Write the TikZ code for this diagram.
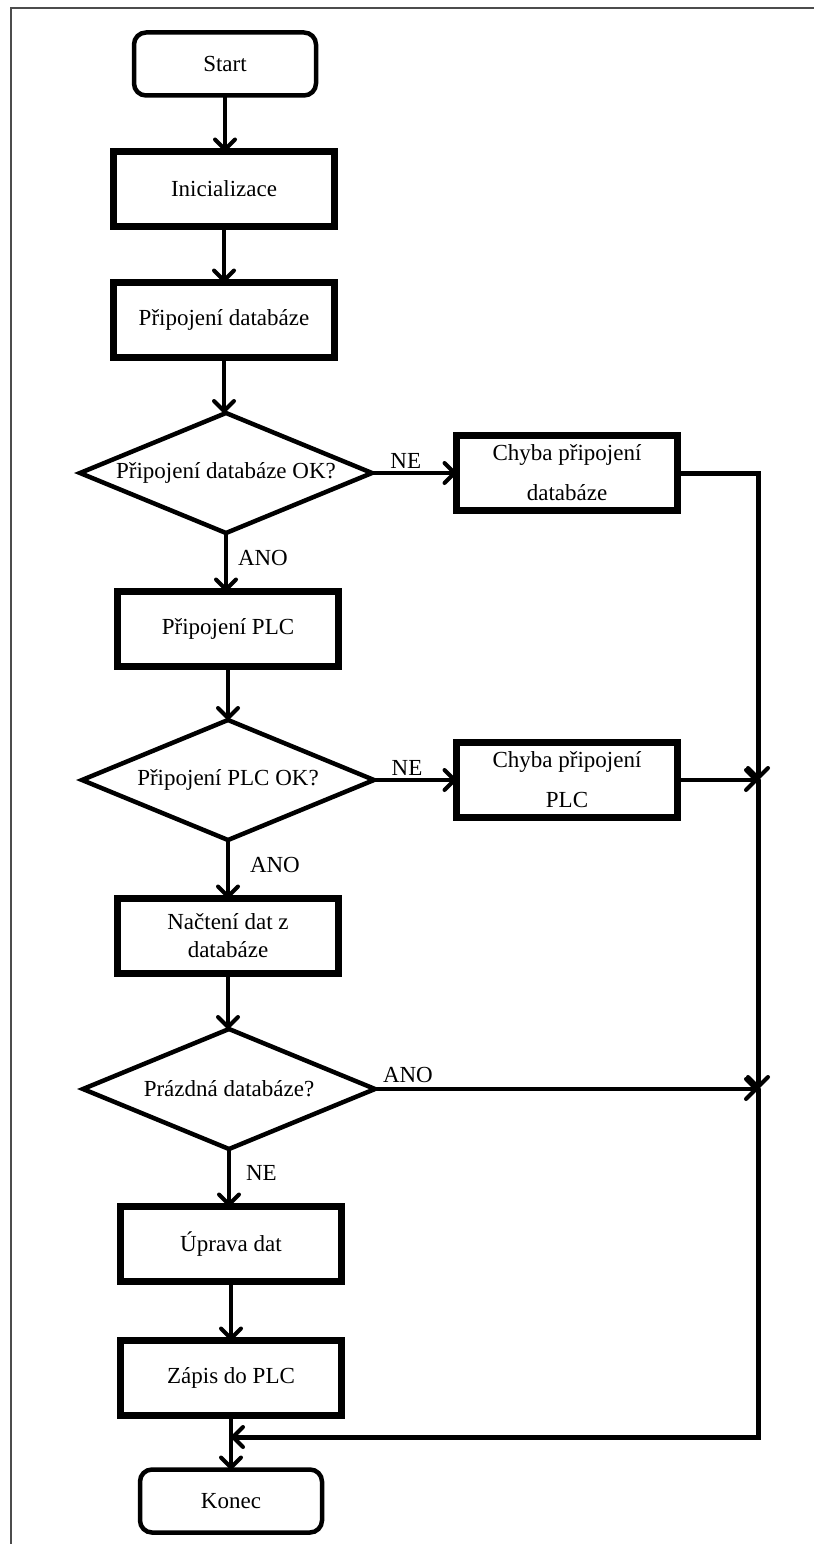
\documentclass[tikz,border=0pt]{standalone}
\usepackage{fontspec}
\setmainfont{Liberation Serif}
\usetikzlibrary{shapes.geometric,arrows.meta}

\begin{document}
\begin{tikzpicture}[x=1pt,y=-1pt,
  every node/.style={font=\fontsize{23}{28}\selectfont, inner sep=0pt, outer sep=0pt},
  term/.style={draw, line width=4.5pt, rounded corners=12pt,
    minimum width=182pt, minimum height=63pt},
  proc/.style={draw, line width=7pt, minimum width=221pt, minimum height=75pt, align=center},
  proc2/.style={proc, font=\fontsize{23}{40}\selectfont},
  dec/.style={draw, diamond, aspect=2.4, line width=4.5pt,
    minimum width=292pt, minimum height=120pt},
  arr/.style={line width=4pt, line cap=round,
    -{Straight Barb[length=10pt,width=20pt,line width=4pt,round]}},
  bus/.style={arr, line width=5pt},
  lbl/.style={font=\fontsize{23}{28}\selectfont}
]
\useasboundingbox (0,0) rectangle (814,1544);

% page frame
\draw[black!70, line width=2pt] (11,1544) -- (11,8) -- (814,8);

% main column
\node[term] (start) at (225,64) {Start};
\node[proc] (init)  at (224,189) {Inicializace};
\node[proc] (pdb)   at (224,320) {Připojení databáze};
\node[dec]  (d1)    at (226,473) {Připojení databáze OK?};
\node[proc] (pplc)  at (228,629) {Připojení PLC};
\node[dec]  (d2)    at (228,780) {Připojení PLC OK?};
\node[proc] (load)  at (228,936) {Načtení dat z\\databáze};
\node[dec]  (d3)    at (229,1089) {Prázdná databáze?};
\node[proc] (edit)  at (231,1244) {Úprava dat};
\node[proc] (write) at (231,1378) {Zápis do PLC};
\node[term] (konec) at (231,1501) {Konec};

% error boxes
\node[proc2] (e1) at (567,473) {Chyba připojení\\databáze};
\node[proc2] (e2) at (567,780) {Chyba připojení\\PLC};

% junctions on the collecting line
\coordinate (j1) at (758,780);
\coordinate (j2) at (758,1089);
\coordinate (j3) at (231,1437);

% main flow
\draw[arr] (start.south) -- (start.south |- init.north);
\draw[arr] (init.south) -- (init.south |- pdb.north);
\draw[arr] (pdb.south) -- (pdb.south |- d1.north);
\draw[arr] (d1.south) -- node[lbl, pos=0.42, anchor=west, xshift=12pt] {ANO} (d1.south |- pplc.north);
\draw[arr] (pplc.south) -- (pplc.south |- d2.north);
\draw[arr] (d2.south) -- node[lbl, pos=0.42, anchor=west, xshift=22pt] {ANO} (d2.south |- load.north);
\draw[arr] (load.south) -- (load.south |- d3.north);
\draw[arr] (d3.south) -- node[lbl, pos=0.42, anchor=west, xshift=17pt] {NE} (d3.south |- edit.north);
\draw[arr] (edit.south) -- (edit.south |- write.north);
\draw[arr] (write.south) -- (write.south |- konec.north);

% error branches
\draw[arr] (d1.east) -- node[lbl, pos=0.4, anchor=south, yshift=5pt] {NE} (e1.west);
\draw[arr] (d2.east) -- node[lbl, pos=0.4, anchor=south, yshift=5pt] {NE} (e2.west);

% collecting line on the right
\draw[bus] (e1.east) -| (j1);
\draw[arr] (e2.east) -- (j1);
\draw[bus] (j1) -- (j2);
\draw[arr] (d3.east) -- node[lbl, pos=0, anchor=south west, xshift=8pt, yshift=6pt] {ANO} (j2);
\draw[bus] (j2) |- (j3);
\end{tikzpicture}
\end{document}
